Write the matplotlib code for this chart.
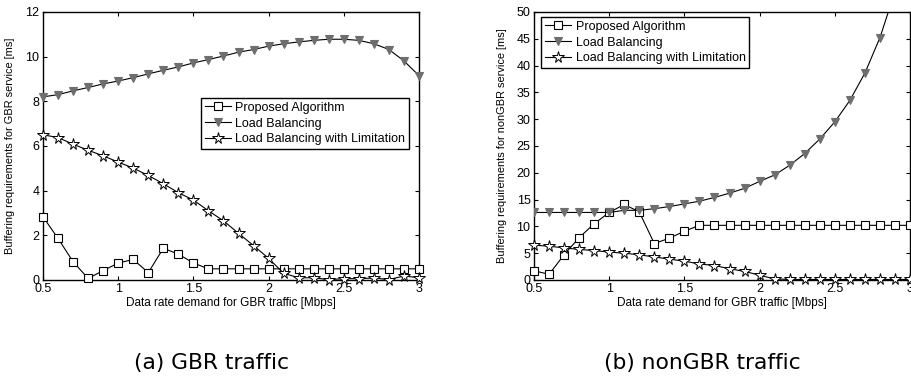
import numpy as np
import matplotlib
matplotlib.use("Agg")
import matplotlib.pyplot as plt

x = [0.5, 0.6, 0.7, 0.8, 0.9, 1.0, 1.1, 1.2, 1.3, 1.4, 1.5, 1.6, 1.7,
     1.8, 1.9, 2.0, 2.1, 2.2, 2.3, 2.4, 2.5, 2.6, 2.7, 2.8, 2.9, 3.0]

# (a) GBR traffic
gbr_proposed = [2.83, 1.86, 0.82, 0.07, 0.42, 0.76, 0.92, 0.33, 1.42, 1.16, 0.76,
                0.5, 0.5, 0.5, 0.5, 0.5, 0.5, 0.5, 0.5, 0.5, 0.5, 0.5, 0.5, 0.5, 0.5, 0.5]
gbr_lb = [8.2, 8.3, 8.47, 8.62, 8.78, 8.91, 9.06, 9.23, 9.39, 9.54, 9.72, 9.87, 10.03,
          10.2, 10.32, 10.47, 10.58, 10.66, 10.73, 10.78, 10.78, 10.73, 10.58, 10.32, 9.81, 9.15]
gbr_lbl = [6.5, 6.38, 6.08, 5.81, 5.56, 5.28, 5.01, 4.68, 4.31, 3.91, 3.58, 3.1, 2.65,
           2.09, 1.54, 0.97, 0.3, 0.1, 0.1, 0.02, 0.06, 0.06, 0.09, 0.02, 0.18, 0.1]

# (b) nonGBR traffic
ngbr_proposed = [1.74, 1.05, 4.7, 7.9, 10.5, 12.6, 14.1, 12.7, 6.8, 7.8, 9.1,
                 10.2, 10.2, 10.2, 10.2, 10.2, 10.2, 10.2, 10.2, 10.2, 10.2, 10.2, 10.2, 10.2, 10.2, 10.2]
ngbr_lb = [12.6, 12.6, 12.6, 12.6, 12.6, 12.6, 13.0, 13.0, 13.3, 13.7, 14.2, 14.7, 15.4,
           16.2, 17.1, 18.4, 19.6, 21.4, 23.6, 26.3, 29.5, 33.5, 38.6, 45.2, 53.8, 64.0]
ngbr_lbl = [6.5, 6.3, 6.0, 5.7, 5.5, 5.2, 5.0, 4.7, 4.3, 3.9, 3.5, 3.0, 2.7,
            2.1, 1.6, 0.9, 0.2, 0.1, 0.1, 0.1, 0.1, 0.1, 0.1, 0.1, 0.1, 0.1]

labels = ["Proposed Algorithm", "Load Balancing", "Load Balancing with Limitation"]
xlabel = "Data rate demand for GBR traffic [Mbps]"
ylabels = ["Buffering requirements for GBR service [ms]",
           "Buffering requirements for nonGBR service [ms]"]
captions = ["(a) GBR traffic", "(b) nonGBR traffic"]
xticks = [0.5, 1, 1.5, 2, 2.5, 3]
xticklabels = ['0.5', '1', '1.5', '2', '2.5', '3']
yticks_a = [0, 2, 4, 6, 8, 10, 12]
yticks_b = [0, 5, 10, 15, 20, 25, 30, 35, 40, 45, 50]

plt.rcParams['font.family'] = ['Liberation Sans', 'DejaVu Sans']

fig = plt.figure(figsize=(9.11, 3.80), dpi=100)
W, H = 911, 380
def pos(x0, x1, y0, y1):
    return [x0 / W, 1 - y1 / H, (x1 - x0) / W, (y1 - y0) / H]

ax1 = fig.add_axes(pos(43, 419, 12, 280))
ax2 = fig.add_axes(pos(534, 910, 12, 280))

gray = '#6e6e6e'
lw = 0.8

def draw(ax, p, lb, lbl, yticks, ylim, ylabel, legend_anchor, ylab_x):
    ax.plot(x, p, color='black', lw=lw, marker='s', ms=5.8, mfc='white', mec='black',
            mew=0.8, label=labels[0], zorder=3)
    ax.plot(x, lb, color='black', lw=lw, marker='v', ms=6.0, mfc=gray, mec=gray,
            mew=0.8, label=labels[1], zorder=3)
    ax.plot(x, lbl, color='black', lw=lw, marker='*', ms=8.5, mfc='white', mec='black',
            mew=0.7, label=labels[2], zorder=3)
    ax.set_xlim(0.5, 3)
    ax.set_ylim(*ylim)
    ax.set_xticks(xticks)
    ax.set_xticklabels(xticklabels)
    ax.set_yticks(yticks)
    ax.tick_params(direction='in', length=3, width=0.8, top=True, right=True,
                   labelsize=9, pad=2.5)
    for s in ax.spines.values():
        s.set_linewidth(1.0)
    ax.set_xlabel(xlabel, fontsize=8.5, labelpad=1.0)
    ax.set_ylabel(ylabel, fontsize=7.9)
    ax.yaxis.set_label_coords(ylab_x, 0.5)
    leg = ax.legend(loc='upper left', bbox_to_anchor=legend_anchor, borderaxespad=0,
                    fontsize=9, handlelength=2.1, handletextpad=0.35, labelspacing=0.3,
                    borderpad=0.3, fancybox=False, framealpha=1, edgecolor='black')
    leg.get_frame().set_linewidth(1.0)
    return ax

draw(ax1, gbr_proposed, gbr_lb, gbr_lbl, yticks_a, (0, 12), ylabels[0],
     (0.42, 0.679), (15 - 43) / 376)
draw(ax2, ngbr_proposed, ngbr_lb, ngbr_lbl, yticks_b, (0, 50), ylabels[1],
     (0.019, 0.981), (507 - 534) / 376)
for ln in ax1.lines + ax2.lines:
    ln.set_clip_on(False)
ax2.lines[1].set_clip_on(True)

fig.text(212 / W, 1 - 363 / H, captions[0], ha='center', va='center', fontsize=15.7,
         family=['DejaVu Sans'])
fig.text(702 / W, 1 - 363 / H, captions[1], ha='center', va='center', fontsize=15.7,
         family=['DejaVu Sans'])

fig.savefig('out.png', dpi=100)
